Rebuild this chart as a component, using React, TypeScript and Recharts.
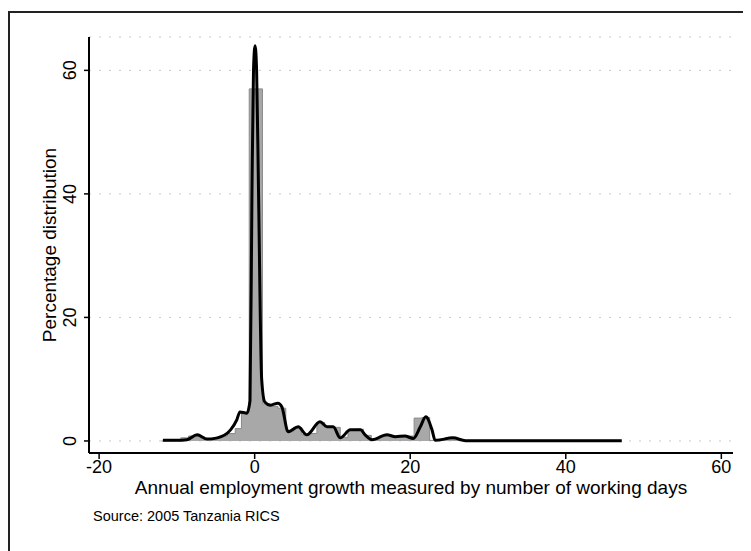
import {
  ComposedChart,
  Area,
  Line,
  XAxis,
  YAxis,
  CartesianGrid,
} from "recharts";

// histogram bins: left edge and height (percent)
const histStart: number[] = [
  -12, -9.5, -8.5, -7.5, -6.5, -5.5, -4.5, -3.5, -2.5, -1.7, -0.7, 1.0, 2.0,
  3.0, 4.0, 5.0, 6.0, 7.0, 8.0, 9.0, 10.0, 11.0, 12.0, 13.0, 14.0, 15.0, 16.0,
  17.0, 18.0, 19.0, 20.5, 21.5, 22.5, 23.5, 24.5, 25.5, 27, 47,
];
const histPct: number[] = [
  0, 0.5, 0.8, 0.7, 0.3, 0.5, 0.8, 1.2, 2.0, 4.6, 57, 6.0, 5.6, 5.3, 1.5, 2.2,
  1.0, 1.2, 3.0, 2.2, 2.2, 0.6, 1.8, 1.9, 0.9, 0.2, 0.8, 0.9, 0.6, 0.8, 3.7,
  3.8, 0.1, 0.3, 0.5, 0.2, 0.1, 0.1,
];

// density curve
const densX: number[] = [
  -11.8, -10, -8.7, -7.4, -6.1, -4.8, -3.1, -2.3, -1.9, -1.0, -0.6, -0.35,
  -0.15, 0.05, 0.25, 0.5, 0.9, 1.3, 2.0, 3.0, 3.5, 4.3, 5.6, 6.7, 8.4, 9.3,
  10.1, 11.0, 12.3, 13.6, 14.2, 15.1, 17.0, 18.1, 19.3, 20.4, 21.3, 22.0, 22.8,
  23.2, 25.5, 27.1, 35, 47.2,
];
const densY: number[] = [
  0.1, 0.1, 0.2, 1.0, 0.3, 0.5, 1.8, 3.4, 4.7, 4.5, 6.5, 40, 60, 64, 60, 40,
  10, 6.3, 5.8, 6.1, 5.5, 1.5, 2.3, 1.0, 3.1, 2.3, 2.3, 0.5, 1.8, 1.8, 1.0,
  0.2, 1.0, 0.7, 0.8, 0.4, 2.3, 3.9, 1.8, 0.1, 0.5, 0.05, 0.05, 0.05,
];

const xTicks = [-20, 0, 20, 40, 60];
const yTicks = [0, 20, 40, 60];

const histData = histStart.map((x, i) => ({ x, pct: histPct[i] }));
const densData = densX.map((x, i) => ({ x, dens: densY[i] }));

const font = "'Liberation Sans', Arial, sans-serif";

const YTick = (props: any) => {
  const { x, y, payload } = props;
  return (
    <text
      x={x}
      y={y}
      transform={`rotate(-90, ${x}, ${y})`}
      textAnchor="middle"
      fontSize={18}
      fontFamily={font}
      fill="#000"
    >
      {payload.value}
    </text>
  );
};

const YTitle = (props: any) => {
  const vb = props.viewBox || {};
  const cy = vb.y + vb.height / 2;
  const cx = 46;
  return (
    <text
      x={cx}
      y={cy}
      transform={`rotate(-90, ${cx}, ${cy})`}
      textAnchor="middle"
      fontSize={19}
      fontFamily={font}
      fill="#000"
    >
      Percentage distribution
    </text>
  );
};

const XTitle = (props: any) => {
  const vb = props.viewBox || {};
  const cx = vb.x + vb.width / 2;
  return (
    <g fontFamily={font} fill="#000">
      <text x={cx} y={vb.y + 41} textAnchor="middle" fontSize={19}>
        Annual employment growth measured by number of working days
      </text>
      <text x={vb.x + 4} y={vb.y + 68} fontSize={14.5}>
        Source: 2005 Tanzania RICS
      </text>
    </g>
  );
};

export default function App() {
  return (
    <div
      style={{
        marginTop: 3,
        width: 736,
        height: 538,
        borderTop: "2px solid #222",
        borderLeft: "2px solid #222",
        borderRight: "2px solid #222",
        background: "#fff",
      }}
    >
      <ComposedChart
        width={736}
        height={538}
        margin={{ top: 24, right: 13, bottom: 38, left: 0 }}
      >
        <CartesianGrid
          horizontal
          vertical={false}
          stroke="#c8c8c8"
          strokeDasharray="2 8"
        />
        <XAxis
          type="number"
          dataKey="x"
          domain={[-21.3, 61.5]}
          allowDataOverflow
          ticks={xTicks}
          tickSize={6}
          tickMargin={1}
          height={60}
          axisLine={{ stroke: "#000", strokeWidth: 2 }}
          tickLine={{ stroke: "#000", strokeWidth: 1.5 }}
          tick={{ fill: "#000", fontSize: 18, fontFamily: font }}
          label={<XTitle />}
        />
        <YAxis
          type="number"
          domain={[-1.95, 65.4]}
          allowDataOverflow
          ticks={yTicks}
          width={79}
          tickSize={5}
          tickMargin={8}
          axisLine={{ stroke: "#000", strokeWidth: 2 }}
          tickLine={{ stroke: "#000", strokeWidth: 1.5 }}
          tick={<YTick />}
          label={<YTitle />}
        />
        <Area
          data={histData}
          dataKey="pct"
          type="stepAfter"
          fill="#a8a8a8"
          fillOpacity={1}
          stroke="#8a8a8a"
          strokeWidth={1}
          isAnimationActive={false}
        />
        <Line
          data={densData}
          dataKey="dens"
          type="monotone"
          stroke="#000"
          strokeWidth={3}
          dot={false}
          isAnimationActive={false}
        />
      </ComposedChart>
    </div>
  );
}
